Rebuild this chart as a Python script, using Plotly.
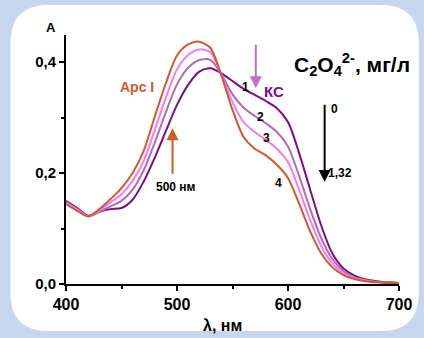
import plotly.graph_objects as go

wavelength = [400, 410, 420, 430, 440, 450, 460, 470, 480, 490, 500, 510, 520, 530, 540,
              550, 560, 570, 580, 590, 600, 610, 620, 630, 640, 650, 660, 670, 680, 690, 700]

curve1_ks = [0.150, 0.137, 0.123, 0.130, 0.135, 0.137, 0.152, 0.185, 0.228, 0.276, 0.323,
             0.359, 0.383, 0.389, 0.380, 0.366, 0.352, 0.341, 0.330, 0.317, 0.292, 0.236,
             0.170, 0.105, 0.055, 0.028, 0.015, 0.008, 0.005, 0.003, 0.002]
curve2 = [0.148, 0.135, 0.122, 0.130, 0.140, 0.150, 0.170, 0.205, 0.255, 0.310, 0.360,
          0.390, 0.404, 0.404, 0.378, 0.342, 0.318, 0.303, 0.290, 0.274, 0.248, 0.195,
          0.135, 0.082, 0.045, 0.023, 0.012, 0.007, 0.004, 0.003, 0.002]
curve3 = [0.146, 0.134, 0.122, 0.133, 0.147, 0.162, 0.186, 0.222, 0.278, 0.336, 0.387,
          0.413, 0.423, 0.418, 0.377, 0.328, 0.292, 0.274, 0.260, 0.244, 0.220, 0.170,
          0.115, 0.068, 0.037, 0.019, 0.010, 0.006, 0.003, 0.002, 0.002]
curve4 = [0.144, 0.132, 0.122, 0.135, 0.153, 0.173, 0.200, 0.240, 0.302, 0.362, 0.412,
          0.432, 0.437, 0.426, 0.376, 0.314, 0.265, 0.244, 0.232, 0.215, 0.191, 0.145,
          0.095, 0.055, 0.030, 0.016, 0.009, 0.005, 0.003, 0.002, 0.002]

x_tick_vals = [400, 500, 600, 700]
x_tick_text = ["400", "500", "600", "700"]
y_tick_vals = [0.0, 0.2, 0.4]
y_tick_text = ["0,0", "0,2", "0,4"]

series = [
    ("1", curve1_ks, "#7e0c88"),
    ("2", curve2, "#b46ab6"),
    ("3", curve3, "#f47cf0"),
    ("4", curve4, "#cf5a2a"),
]

FONT = "Liberation Sans"
BG = "#c6d6ee"

fig = go.Figure()
for name, vals, col in series:
    fig.add_trace(go.Scatter(x=wavelength, y=vals, mode="lines", name=name,
                             line=dict(color=col, width=2, shape="spline", smoothing=0.8),
                             showlegend=False, hoverinfo="skip"))

# panel (white rounded rect) in paper coords
W, H = 424, 338
L, R, T, B = 66, 23, 35, 54
pw, ph = W - L - R, H - T - B
def px(x):
    return (x - L) / pw
def py(y):
    return (H - B - y) / ph

x0, x1, y0, y1, r = 10, 421, 5, 331, 38
path = (f"M {px(x0 + r)},{py(y0)} L {px(x1 - r)},{py(y0)} "
        f"Q {px(x1)},{py(y0)} {px(x1)},{py(y0 + r)} L {px(x1)},{py(y1 - r)} "
        f"Q {px(x1)},{py(y1)} {px(x1 - r)},{py(y1)} L {px(x0 + r)},{py(y1)} "
        f"Q {px(x0)},{py(y1)} {px(x0)},{py(y1 - r)} L {px(x0)},{py(y0 + r)} "
        f"Q {px(x0)},{py(y0)} {px(x0 + r)},{py(y0)} Z")
fig.add_shape(type="path", path=path, xref="paper", yref="paper",
              fillcolor="white", line=dict(width=0), layer="below")

def txt(x, y, s, size=11, color="black", xanchor="center", bold=True, ref="data"):
    fig.add_annotation(x=x, y=y, text=s, showarrow=False,
                       xref="x" if ref == "data" else "paper",
                       yref="y" if ref == "data" else "paper",
                       xanchor=xanchor, yanchor="middle",
                       font=dict(family=FONT, size=size, color=color,
                                 weight="bold" if bold else "normal"))

def arrow(x, ytail, yhead, color):
    fig.add_annotation(x=x, y=yhead, ax=x, ay=ytail, xref="x", yref="y",
                       axref="x", ayref="y", text="", showarrow=True,
                       arrowhead=2, arrowsize=1.2, arrowwidth=2, arrowcolor=color)

txt(464, 0.355, "Арс I", size=14, color="#cf5a2a")
txt(499, 0.175, "500 нм", size=12)
arrow(496, 0.196, 0.281, "#cf5a2a")
txt(575.5, 0.459, "575 нм", size=12)
arrow(571, 0.434, 0.353, "#c070c4")
txt(587, 0.348, "КС", size=15, color="#800a88")
txt(562, 0.355, "1", size=12)
txt(575.5, 0.301, "2", size=12)
txt(581, 0.263, "3", size=12)
txt(591, 0.182, "4", size=12)
txt(658, 0.395, "C<sub>2</sub>O<sub>4</sub><sup>2-</sup>, мг/л", size=21)
arrow(633, 0.326, 0.184, "black")
txt(637, 0.315, "0", size=12, xanchor="left")
txt(634, 0.200, "1,32", size=12, xanchor="left")
txt(px(51), py(27), "A", size=13, ref="paper")
txt(px(223), py(326), "λ, нм", size=16, ref="paper")

fig.update_xaxes(range=[400, 700], showline=True, linecolor="black", linewidth=2,
                 ticks="outside", ticklen=5, tickwidth=2, tickcolor="black",
                 tickvals=x_tick_vals, ticktext=x_tick_text,
                 minor=dict(dtick=50, ticks="outside", ticklen=3, tickwidth=2, tickcolor="black"),
                 showgrid=False, zeroline=False,
                 tickfont=dict(family=FONT, size=16, color="black", weight="bold"))
fig.update_yaxes(range=[0, 0.449], showline=True, linecolor="black", linewidth=2,
                 ticks="outside", ticklen=5, tickwidth=2, tickcolor="black",
                 tickvals=y_tick_vals, ticktext=y_tick_text,
                 minor=dict(dtick=0.1, ticks="outside", ticklen=3, tickwidth=2, tickcolor="black"),
                 showgrid=False, zeroline=False,
                 tickfont=dict(family=FONT, size=15, color="black", weight="bold"))

fig.update_layout(width=W, height=H, margin=dict(l=L, r=R, t=T, b=B),
                  paper_bgcolor=BG, plot_bgcolor="rgba(0,0,0,0)")

fig.write_html("out.html", config={"displayModeBar": False},
               post_script=f"document.body.style.margin='0';document.body.style.overflow='hidden';"
                           f"document.body.style.background='{BG}';")
